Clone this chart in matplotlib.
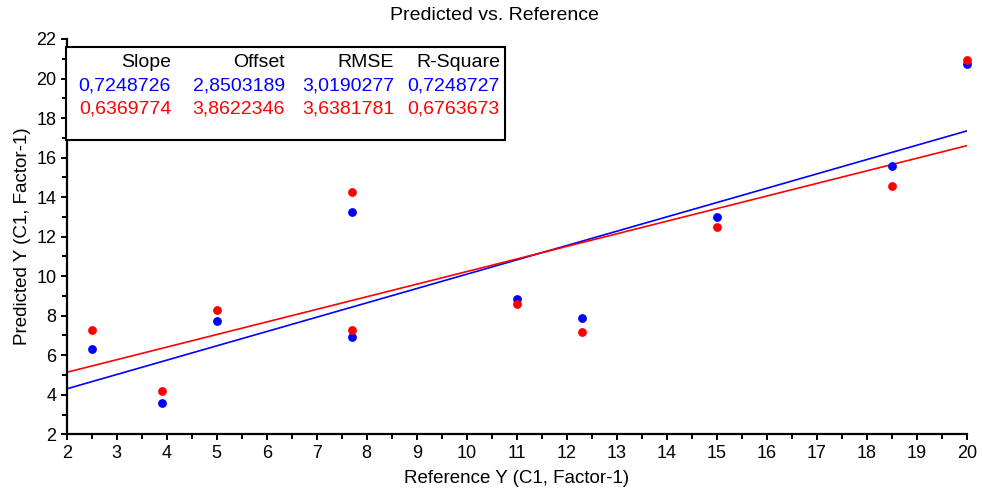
import matplotlib
matplotlib.use("Agg")
import matplotlib.pyplot as plt
from matplotlib.patches import Rectangle
from matplotlib.ticker import MultipleLocator
import numpy as np

plt.rcParams['font.family'] = ['Liberation Sans', 'DejaVu Sans']

# Data
reference_x = [2.5, 3.9, 5.0, 7.7, 7.7, 11.0, 12.3, 15.0, 18.5, 20.0]
predicted_blue = [6.33, 3.58, 7.71, 13.24, 6.94, 8.84, 7.90, 13.00, 15.58, 20.76]
predicted_red = [7.28, 4.18, 8.31, 14.27, 7.28, 8.58, 7.20, 12.47, 14.54, 20.93]

headers = ["Slope", "Offset", "RMSE", "R-Square"]
stats_blue = ["0,7248726", "2,8503189", "3,0190277", "0,7248727"]
stats_red = ["0,6369774", "3,8622346", "3,6381781", "0,6763673"]
slope_blue, offset_blue = 0.7248726, 2.8503189
slope_red, offset_red = 0.6369774, 3.8622346

title = "Predicted vs. Reference"
xlabel = "Reference Y (C1, Factor-1)"
ylabel = "Predicted Y (C1, Factor-1)"

BLUE = "#0000ff"
RED = "#ff0000"

fig = plt.figure(figsize=(9.82, 4.91), dpi=100)
ax = fig.add_axes([66.7 / 982, 1 - 434.3 / 491, 900 / 982, 395.3 / 491])

xlim = (2, 20)
ylim = (2, 22)
ax.set_xlim(*xlim)
ax.set_ylim(*ylim)

xs = np.array(xlim, dtype=float)
ax.plot(xs, slope_blue * xs + offset_blue, color=BLUE, lw=1.2, zorder=2)
ax.plot(xs, slope_red * xs + offset_red, color=RED, lw=1.2, zorder=2)

ax.scatter(reference_x, predicted_blue, s=40, color=BLUE, zorder=3, clip_on=False, linewidths=0)
ax.scatter(reference_x, predicted_red, s=40, color=RED, zorder=3, clip_on=False, linewidths=0)

for side in ("top", "right"):
    ax.spines[side].set_visible(False)
for side in ("left", "bottom"):
    ax.spines[side].set_linewidth(1.6)

ax.xaxis.set_major_locator(MultipleLocator(1))
ax.xaxis.set_minor_locator(MultipleLocator(0.5))
ax.yaxis.set_major_locator(MultipleLocator(2))
ax.yaxis.set_minor_locator(MultipleLocator(1))
ax.tick_params(which="major", length=4.5, width=1.4, labelsize=13, pad=3)
ax.tick_params(which="minor", length=3.5, width=1.4)

ax.set_xlabel(xlabel, fontsize=13.5, labelpad=6)
ax.set_ylabel(ylabel, fontsize=13.5, labelpad=4)
fig.text(494 / 982, 1 - 16 / 491, title, fontsize=14, ha="center", va="center")

# Statistics box
box = Rectangle((-0.001, 0.7445), 0.488, 0.236, transform=ax.transAxes,
                facecolor="white", edgecolor="black", lw=1.5, zorder=4, clip_on=False)
ax.add_patch(box)
col_right = [0.1159, 0.2426, 0.3637, 0.4814]
row_y = [0.9418, 0.881, 0.8229]
for rows, color, y in ((headers, "black", row_y[0]), (stats_blue, BLUE, row_y[1]), (stats_red, RED, row_y[2])):
    for txt, xr in zip(rows, col_right):
        ax.text(xr, y, txt, transform=ax.transAxes, ha="right", va="center",
                color=color, fontsize=14, zorder=5)

fig.savefig("out.png", dpi=100)
